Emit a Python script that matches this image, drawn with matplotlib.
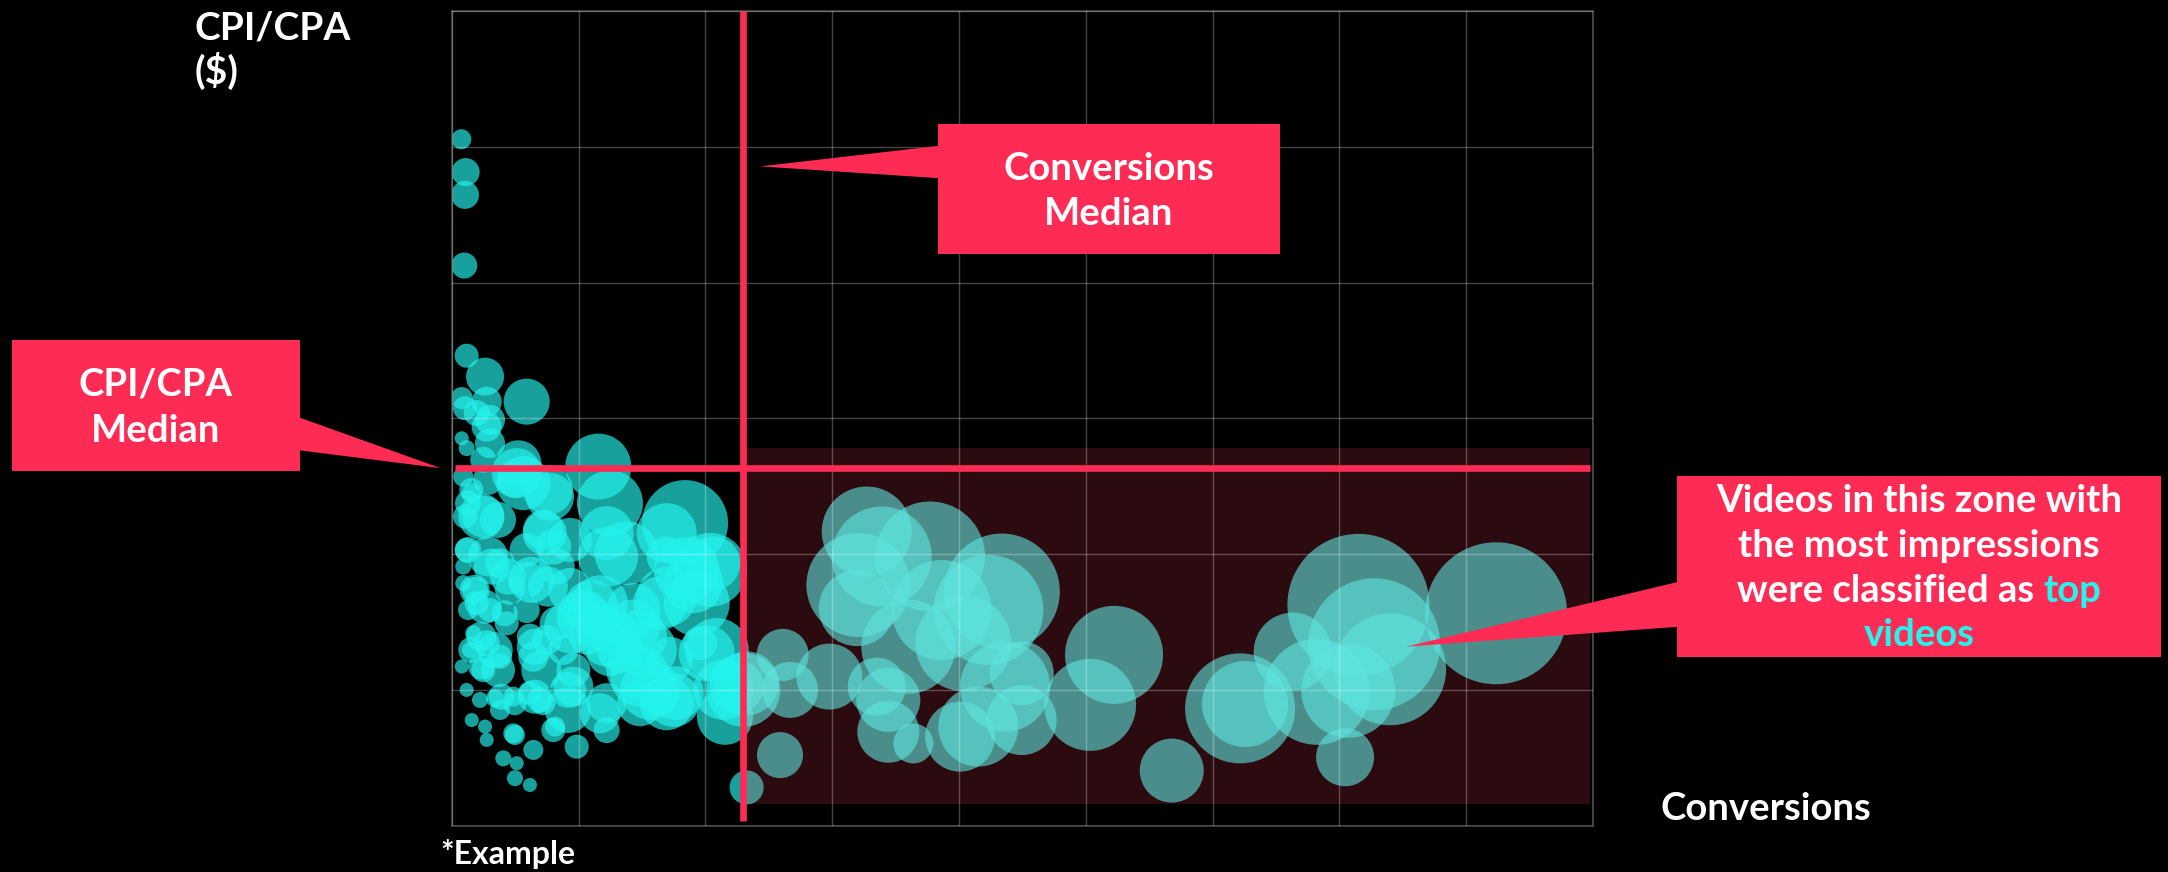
import matplotlib
matplotlib.use("Agg")
import matplotlib.pyplot as plt
from matplotlib.patches import Polygon, Rectangle
import numpy as np

W, H, DPI = 2168, 872, 100
FONT = "Lato"
RED = "#FE2C55"
CYAN = "#25F4EE"

# ---------------- data ----------------
conversions = [
    7.6, 11.0, 10.5, 9.9, 11.8, 26.3, 59.1, 7.9, 27.6, 10.5, 19.7, 30.2, 27.6, 7.9, 11.8, 30.2,
    52.5, 24.9, 115.6, 124.8, 184.0, 169.5, 56.5, 77.5, 9.1, 15.8, 24.9, 10.5, 72.2, 80.1, 122.2,
    138.0, 169.5, 206.3, 203.7, 51.3, 93.3, 31.5, 11.8, 9.1, 59.1, 82.8, 93.3, 116.9, 143.2, 103.8,
    153.8, 172.2, 195.8, 201.1, 214.2, 232.6, 177.4, 164.3, 148.5, 116.9, 122.2, 95.9, 98.6, 80.1,
    64.4, 64.4, 61.7, 72.2, 48.6, 51.3, 40.7, 49.9, 61.7, 38.1, 26.3, 15.8, 27.6, 11.8, 7.9, 14.4,
    27.6, 38.1, 24.9, 17.0, 30.2, 19.7, 9.1, 18.4, 46.0, 38.1, 59.1, 43.4, 59.1, 74.9, 82.8, 101.2,
    88.0, 106.5, 122.2, 95.9, 132.7, 143.2, 164.3, 190.5, 209.0, 215.5, 174.8, 148.5, 69.6, 61.7,
    48.6, 34.1, 22.3, 49.9, 81.5, 230.0, 232.6,
    75.9, 73.3, 123.3, 110.1, 94.3, 123.3, 65.5, 70.7, 62.8, 75.9, 36.5, 23.3, 12.9, 15.5, 28.6,
    49.7, 12.9, 28.6, 44.4, 18.1, 26.0, 12.9, 41.8, 23.3, 33.9, 15.5, 23.3, 36.5, 65.5, 91.7, 39.1,
    49.7, 91.7, 185.3, 169.5, 193.2, 148.5, 143.2, 156.4, 169.5, 124.8, 224.8, 116.9, 122.2,
    # right of the median
    327.3, 339.1, 377.2, 320.7, 319.4, 386.4, 433.8, 423.2, 403.5, 360.1, 436.4, 449.5, 449.5,
    415.3, 400.9, 364.0, 344.3, 344.3, 335.2, 297.8, 266.8, 261.0, 258.9, 522.3, 503.4, 567.8,
    715.0, 823.6, 727.4, 740.0, 663.2, 682.2, 707.1, 621.7, 625.6, 704.5,
]
cpi = [
    25.28, 24.07, 23.23, 20.63, 17.31, 16.54, 15.62, 15.75, 15.62, 15.38, 15.20, 14.95, 14.70, 14.27,
    13.91, 14.09, 13.35, 13.48, 13.23, 11.88, 11.15, 10.78, 12.62, 12.12, 12.86, 12.25, 11.39, 11.39,
    10.90, 10.28, 10.78, 10.04, 9.92, 9.67, 9.43, 12.99, 10.53, 9.55, 10.16, 9.55, 9.06, 9.55, 8.69,
    8.20, 7.34, 7.71, 6.48, 6.11, 6.73, 6.36, 5.01, 5.25, 4.89, 4.76, 5.50, 4.15, 3.53, 5.13, 2.92,
    3.53, 2.80, 6.23, 6.97, 4.52, 3.41, 2.31, 2.49, 1.76, 1.51, 4.27, 3.66, 3.90, 3.17, 5.01, 5.87,
    6.48, 6.73, 6.23, 5.74, 7.10, 7.95, 8.20, 8.94, 8.69, 8.69, 9.67, 10.16, 7.46, 7.95, 6.85, 7.46,
    7.95, 6.48, 6.97, 6.97, 5.74, 6.48, 7.95, 8.20, 8.94, 6.48, 4.02, 4.64, 4.52, 4.64, 4.89, 4.76,
    4.70, 4.64, 3.35, 3.66, 5.01, 1.42,
    12.37, 10.78, 9.92, 8.07, 7.34, 6.97, 6.60, 5.74, 9.06, 8.81, 11.27, 11.39, 11.88, 12.37, 12.74,
    12.74, 10.16, 9.92, 9.18, 8.69, 8.07, 7.95, 7.83, 6.97, 6.48, 6.48, 5.87, 5.74, 4.76, 5.01, 4.76,
    4.52, 4.27, 9.43, 8.44, 8.20, 6.97, 5.74, 5.01, 4.52, 6.36, 5.13, 7.58, 4.52,
    10.84, 9.92, 9.92, 8.87, 8.02, 7.95, 8.63, 7.95, 6.73, 6.60, 5.13, 5.62, 3.90, 3.66, 3.29, 3.04,
    3.47, 4.64, 5.13, 5.50, 5.01, 6.30, 2.61, 6.30, 4.46, 2.04, 8.14, 7.83, 6.69, 5.77, 6.42, 4.94,
    4.98, 4.33, 4.49, 2.53,
]
impressions = [  # thousands
    100, 196, 196, 169, 144, 361, 529, 121, 225, 144, 169, 225, 225, 49, 64, 225, 529, 169, 1089,
    1089, 1849, 900, 729, 576, 100, 100, 441, 144, 400, 324, 729, 1024, 400, 729, 1369, 625, 484,
    324, 144, 64, 324, 324, 484, 784, 729, 729, 900, 529, 289, 784, 900, 1024, 729, 324, 900, 400,
    169, 400, 144, 144, 100, 225, 169, 144, 100, 49, 64, 64, 49, 100, 49, 49, 49, 49, 49, 64, 169,
    144, 144, 64, 144, 144, 64, 169, 225, 225, 289, 144, 169, 225, 289, 400, 225, 324, 289, 289,
    529, 729, 729, 900, 1024, 784, 729, 529, 169, 144, 100, 81, 64, 100, 100, 1369, 289,
    625, 484, 900, 729, 729, 900, 324, 400, 529, 400, 324, 529, 169, 144, 225, 324, 169, 400, 324,
    225, 289, 100, 169, 225, 324, 169, 169, 289, 289, 324, 169, 144, 529, 1089, 900, 1089, 729,
    729, 900, 729, 529, 729, 400, 400,
    2025, 2500, 3025, 2704, 1444, 2500, 3364, 3025, 2304, 2209, 2025, 1024, 1225, 1600, 1225, 400,
    961, 1024, 841, 1089, 784, 676, 529, 2401, 2116, 1024, 5041, 5041, 4356, 3136, 1521, 2809,
    2209, 3025, 1849, 841,
]
median_conversions = 230.0
median_cpi = 13.17
zone_conv = (232.0, 897.5)
zone_cpi = (0.81, 13.93)

x_ticks = list(range(0, 901, 100))
y_ticks = list(range(0, 31, 5))

# ---------------- figure ----------------
fig = plt.figure(figsize=(W / DPI, H / DPI), dpi=DPI, facecolor="black")
ax = fig.add_axes([451.7 / W, 1 - 826 / H, (1593 - 451.7) / W, (826 - 11) / H])
ax.set_facecolor("black")
ax.set_xlim(0, 900)
ax.set_ylim(0, 30)
ax.set_xticks(x_ticks)
ax.set_yticks(y_ticks)
ax.tick_params(length=0, labelbottom=False, labelleft=False)
ax.set_axisbelow(False)
ax.grid(True, color="white", alpha=0.27, linewidth=1.0)
for sp in ax.spines.values():
    sp.set_color("#4a4a4a")
    sp.set_linewidth(1.2)

sizes = np.array(impressions) * 2.0736

ax.scatter(conversions, cpi, s=sizes, c=CYAN, alpha=0.66, linewidths=0, zorder=1)
zone = Rectangle((zone_conv[0], zone_cpi[0]), zone_conv[1] - zone_conv[0],
                 zone_cpi[1] - zone_cpi[0], facecolor="#2B0A10", edgecolor="none", zorder=1.5)
ax.add_patch(zone)
sc2 = ax.scatter(conversions, cpi, s=sizes, c="#5FE6DF", alpha=0.6, linewidths=0, zorder=2)
sc2.set_clip_path(zone)

ax.plot([median_conversions, median_conversions], [0.2, 30], color=RED, lw=4.8,
        solid_capstyle="butt", zorder=3, clip_on=False)
ax.plot([2.5, 897.5], [median_cpi, median_cpi], color=RED, lw=4.8,
        solid_capstyle="butt", zorder=3, clip_on=False)

# ---------------- callouts ----------------
def fxy(px, py):
    return (px / W, 1 - py / H)

def data_to_fig(x, y):
    disp = ax.transData.transform((x, y))
    return tuple(fig.transFigure.inverted().transform(disp))

def callout(box, base, tip_data):
    x0, y0, x1, y1 = box
    fig.add_artist(Polygon([fxy(x0, y0), fxy(x1, y0), fxy(x1, y1), fxy(x0, y1)],
                           closed=True, facecolor=RED, edgecolor="none",
                           transform=fig.transFigure, zorder=5))
    (bx, by1, by2) = base
    tip = data_to_fig(*tip_data)
    fig.add_artist(Polygon([fxy(bx, by1), fxy(bx, by2), tip], closed=True,
                           facecolor=RED, edgecolor="none", transform=fig.transFigure, zorder=5))

def label(px, py, s, size=27.5, ha="center", color="white"):
    x, y = fxy(px, py)
    return fig.text(x, y, s, ha=ha, va="baseline", color=color, fontsize=size,
                    fontweight="bold", family=FONT, zorder=6)

# CPI/CPA median callout
callout((12, 340, 299.5, 470.7), (297, 416.7, 450), (-8.5, median_cpi))
label(156, 395, "CPI/CPA")
label(156, 441.5, "Median")

# Conversions median callout
callout((938, 124, 1280, 254.3), (940, 145.7, 178.3), (243.4, 24.28))
label(1109, 180, "Conversions")
label(1109, 225, "Median")

# Top-video zone callout
callout((1677, 476, 2161, 656.7), (1679, 581.7, 626.7), (752.6, 6.60))
cx = 1919
label(cx, 511.7, "Videos in this zone with")
label(cx, 556.7, "the most impressions")
renderer = fig.canvas.get_renderer()
full = label(cx, 601.7, "were classified as top", ha="left")
w_full = full.get_window_extent(renderer).width
top = label(cx, 601.7, "top", ha="right", color=CYAN)
full.set_position(fxy(cx - w_full / 2, 601.7))
full.set_text("were classified as")
top.set_position(fxy(cx + w_full / 2, 601.7))
label(cx, 646, "videos", color=CYAN)

# axis titles
label(195, 39.3, "CPI/CPA", size=28, ha="left")
label(195, 84, "($)", size=28, ha="left")
label(1660, 820, "Conversions", size=27.5, ha="left")
label(440, 864, "*Example", size=23, ha="left")

fig.savefig("out.png", dpi=DPI, facecolor="black")
